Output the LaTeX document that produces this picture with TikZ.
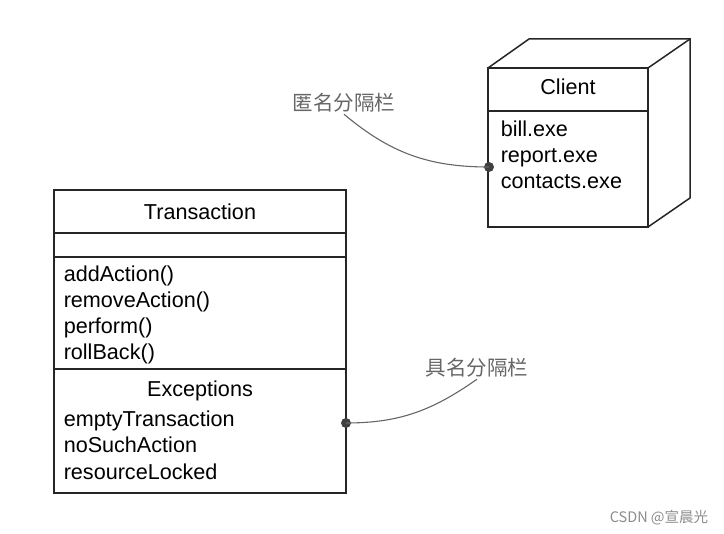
\documentclass[tikz,border=0pt]{standalone}
\usepackage{fontspec}
\setmainfont{Liberation Sans}
\newfontfamily\cjk{Noto Sans CJK SC}
\usetikzlibrary{positioning}

\begin{document}
\begin{tikzpicture}[x=1pt, y=-1pt, line width=1.5pt,
		box/.style={draw=black!85},
		item/.style={font=\fontsize{21.6}{25}\selectfont, inner sep=0pt, anchor=base west},
		title/.style={font=\fontsize{21.6}{25}\selectfont, inner sep=0pt, anchor=base},
		note/.style={font=\cjk\fontsize{20.5}{24}\selectfont, text=black!60, inner sep=1pt},
		dot/.style={circle, fill=black!75, minimum size=10pt, inner sep=0pt},
		lead/.style={draw=black!60, line width=1.1pt}]
	\useasboundingbox (0,0) rectangle (724,534);

	% no Client (cubo)
	\draw [box] (488,68) rectangle (648,227);
	\draw [box] (488,68) -- (529,39) -- (690,39) -- (690,198) -- (648,227);
	\draw [box] (648,68) -- (690,39);
	\draw [box] (488,111) -- (648,111);
	\node [title] (client) at (568,95) {Client};
	\node [item] (bill) at (500,137) {bill.exe};
	\node [item] (report) at (500,163) {report.exe};
	\node [item] (contacts) at (500,189) {contacts.exe};

	% classe Transaction
	\draw [box] (54,190) rectangle (346,493);
	\draw [box] (54,233) -- (346,233);
	\draw [box] (54,257) -- (346,257);
	\draw [box] (54,369) -- (346,369);
	\node [title] (trans) at (200,220) {Transaction};
	\node [item] (add) at (63,282) {addAction()};
	\node [item] (remove) at (63,308) {removeAction()};
	\node [item] (perform) at (63,334) {perform()};
	\node [item] (roll) at (63,360) {rollBack()};
	\node [title] (exc) at (200,397) {Exceptions};
	\node [item] (empty) at (63,427) {emptyTransaction};
	\node [item] (nosuch) at (63,453) {noSuchAction};
	\node [item] (locked) at (63,480) {resourceLocked};

	% compartimentos
	\node [dot] (dotC) at (489,167) {};
	\node [dot] (dotT) at (346,423) {};
	\node [note] (anon) at (344,103) {匿名分隔栏};
	\node [note] (named) at (477,368) {具名分隔栏};
	\draw [lead] (anon.south) to [out=-40, in=180] (dotC.center);
	\draw [lead] (named.south) to [out=-145, in=0] (dotT.center);

	\node [font=\cjk\fontsize{14.5}{17}\selectfont, text=black!45] (mark) at (659,518) {CSDN @宣晨光};
\end{tikzpicture}
\end{document}
